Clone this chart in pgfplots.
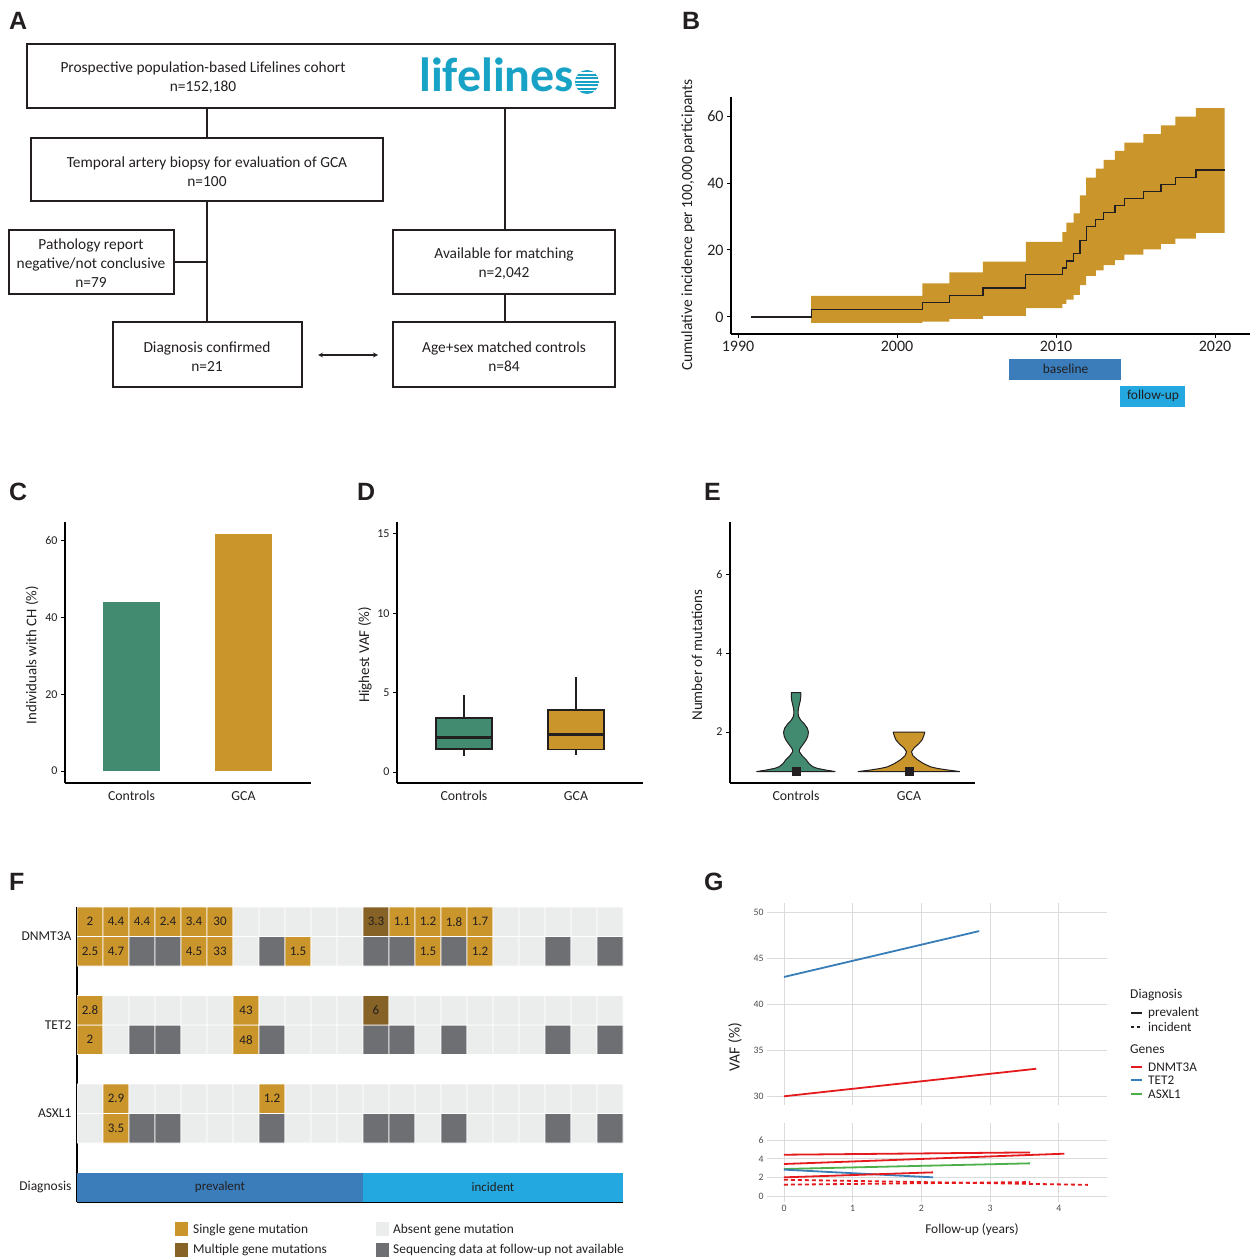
\documentclass[border=0pt]{standalone}
\usepackage{pgfplots}
\pgfplotsset{compat=1.18}
\usepgfplotslibrary{fillbetween,statistics}
\usepackage{fontspec}
\setmainfont{Carlito}
\newfontfamily\letterfont{Liberation Sans}
\definecolor{gold}{RGB}{202,149,42}
\definecolor{cgreen}{RGB}{66,139,113}
\definecolor{cbrown}{RGB}{134,98,38}
\definecolor{cdark}{RGB}{110,111,115}
\definecolor{clight}{RGB}{235,236,236}
\definecolor{cblue}{RGB}{58,125,186}
\definecolor{csky}{RGB}{35,169,224}
\definecolor{lteal}{RGB}{24,163,198}
\definecolor{gred}{RGB}{228,26,28}
\definecolor{gblue}{RGB}{55,126,184}
\definecolor{ggreen}{RGB}{77,175,74}
\definecolor{txt}{RGB}{35,31,32}
\newcommand\fs[1]{\fontsize{#1}{#1}\selectfont}
\pgfplotsset{
  panel/.style={scale only axis, axis lines=left, axis line style={-, line width=1.6pt, black},
    tick align=outside, major tick length=4pt, tick style={line width=1pt, black},
    /pgf/number format/assume math mode=true, ticklabel style={text=txt}},
  gpanel/.style={scale only axis, axis line style={draw=none}, tick style={draw=none},
    grid=major, grid style={line width=0.9pt, color=black!14},
    /pgf/number format/assume math mode=true, ticklabel style={font=\fs{9.8}, text=black!70},
    xmin=-0.247, xmax=4.70, xtick={0,1,2,3,4}},
  catx/.style={xtick={0,1}, xticklabels={Controls,GCA}, xtick style={draw=none},
    xticklabel style={font=\fs{13.8}, text height=10pt, text depth=2pt}},
}
\begin{document}
\begin{tikzpicture}
\begin{scope}[x=1pt,y=-1pt]
% panel letters
\foreach \l/\px/\py in {A/9/30,B/682/30,C/9/500,D/357/500,E/704/500,F/9/890,G/704/890}
  \node[anchor=base west, inner sep=0pt, font=\letterfont\bfseries\fs{25}, text=txt] at (\px,\py) {\l};
% flowchart
\begin{scope}[line width=1.6pt, draw=txt]
\draw (27,44) rectangle (615,108);
\draw (207,108) -- (207,138);
\draw (505,108) -- (505,230);
\draw (31,138) rectangle (383,201);
\draw (207,201) -- (207,322);
\draw (9,230) rectangle (174,294);
\draw (174,262) -- (207,262);
\draw (393,230) rectangle (615,294);
\draw (505,294) -- (505,322);
\draw (113,322) rectangle (302,387);
\draw (393,322) rectangle (615,387);
\draw[<->, >=stealth, line width=1.2pt] (318,355) -- (378,355);
\end{scope}
\tikzset{fc/.style={align=center, font=\fontsize{15.4}{19}\selectfont, text=txt}}
\node[fc] at (203,77.5) {Prospective population-based Lifelines cohort\\n=152,180};
\node[fc] at (207,171.5) {Temporal artery biopsy for evaluation of GCA\\n=100};
\node[fc] at (91,263.5) {Pathology report\\negative/not conclusive\\n=79};
\node[fc] at (504,264) {Available for matching\\n=2,042};
\node[fc] at (207,357) {Diagnosis confirmed\\n=21};
\node[fc] at (504,357) {Age+sex matched controls\\n=84};
\node[anchor=base west, inner sep=0pt, text=lteal, font=\bfseries\fs{48}] at (419,92) {lifelines};
\begin{scope}
\clip (587,82) circle (12pt);
\fill[lteal] (587,82) circle (12pt);
\foreach \d in {-9,-5.5,-2,1.5,5,8.5}
  \draw[white, line width=1.3pt] (574,82+\d) -- (600,82+\d);
\end{scope}
% y labels
\node[rotate=90, font=\fs{15.5}, text=txt] at (688,225) {Cumulative incidence per 100,000 participants};
\node[rotate=90, font=\fs{14.8}, text=txt] at (32,655) {Individuals with CH (\%)};
\node[rotate=90, font=\fs{15}, text=txt] at (365,655) {Highest VAF (\%)};
\node[rotate=90, font=\fs{15}, text=txt] at (697,655) {Number of mutations};
\node[rotate=90, font=\fs{15.5}, text=txt] at (735,1047) {VAF (\%)};
\node[font=\fs{13.4}, text=txt] at (972,1230) {Follow-up (years)};
% F legend
\tikzset{lg/.style={anchor=west, font=\fs{13.4}, text=txt, inner sep=0pt}}
\fill[gold] (175,1222) rectangle (188,1236); \node[lg] at (193,1230) {Single gene mutation};
\fill[cbrown] (175,1243) rectangle (188,1257); \node[lg] at (193,1250) {Multiple gene mutations};
\fill[clight] (376,1222) rectangle (389,1236); \node[lg] at (393,1230) {Absent gene mutation};
\fill[cdark] (376,1243) rectangle (389,1257); \node[lg] at (393,1250) {Sequencing data at follow-up not available};
% G legend
\tikzset{gl/.style={anchor=west, font=\fs{13.2}, text=txt, inner sep=0pt}}
\node[gl, font=\fs{13.5}] at (1130,995) {Diagnosis};
\draw[line width=1.5pt, txt] (1131,1013) -- (1142,1013); \node[gl] at (1148,1013) {prevalent};
\draw[line width=1.5pt, txt, dash pattern=on 3pt off 2.5pt] (1131,1027) -- (1142,1027); \node[gl] at (1148,1027) {incident};
\node[gl, font=\fs{13.5}] at (1130,1049) {Genes};
\draw[line width=1.5pt, gred] (1131,1067) -- (1142,1067); \node[gl] at (1148,1067) {DNMT3A};
\draw[line width=1.5pt, gblue] (1131,1080) -- (1142,1080); \node[gl] at (1148,1080) {TET2};
\draw[line width=1.5pt, ggreen] (1131,1094) -- (1142,1094); \node[gl] at (1148,1094) {ASXL1};
\end{scope}

% ---------------- B
\begin{axis}[panel, at={(731pt,-334pt)}, anchor=south west, width=519pt, height=237pt,
  xmin=1989.56, xmax=2022.2, ymin=-5.1, ymax=65.7, clip=false,
  xtick={1990,2000,2010,2020}, xticklabels={1990,2000,2010,2020},
  ytick={0,20,40,60}, ticklabel style={font=\fs{16}}]
\addplot[const plot, draw=none, name path=U] coordinates {(1994.6,6.3) (2001.6,10.0) (2003.3,13.3) (2005.4,16.5) (2008.1,22.4) (2010.4,25.3) (2010.65,28.2) (2011.1,30.9) (2011.5,36.3) (2011.9,41.6) (2012.5,44.3) (2013.0,46.9) (2013.7,49.6) (2014.3,52.1) (2015.5,54.6) (2016.6,57.2) (2017.5,59.8) (2018.8,62.4) (2020.6,62.4)};
\addplot[const plot, draw=none, name path=L] coordinates {(1994.6,-1.8) (2001.6,-1.4) (2003.3,-0.6) (2005.4,0.3) (2008.1,2.6) (2010.4,3.9) (2010.65,5.2) (2011.1,6.6) (2011.5,9.5) (2011.9,12.3) (2012.5,13.9) (2013.0,15.5) (2013.7,17.0) (2014.3,18.6) (2015.5,20.2) (2016.6,21.8) (2017.5,23.4) (2018.8,25.1) (2020.6,25.1)};
\addplot[gold] fill between[of=U and L];
\addplot[const plot, line width=1.3pt, color=txt] coordinates {(1990.8,0) (1994.6,2.3) (2001.6,4.4) (2003.3,6.5) (2005.4,8.6) (2008.1,12.6) (2010.4,14.6) (2010.65,16.7) (2011.1,18.9) (2011.5,22.9) (2011.9,27.1) (2012.5,29.2) (2013.0,31.2) (2013.7,33.3) (2014.3,35.4) (2015.5,37.5) (2016.6,39.6) (2017.5,41.7) (2018.8,43.9) (2020.6,43.9)};
\fill[cblue] (axis cs:2007.05,-12.6) rectangle (axis cs:2014.1,-18.7);
\node[font=\fs{13.5}, text=txt] at (axis cs:2010.6,-15.65) {baseline};
\fill[csky] (axis cs:2014.05,-20.6) rectangle (axis cs:2018.14,-26.8);
\node[font=\fs{13.5}, text=txt] at (axis cs:2016.1,-23.7) {follow-up};
\end{axis}

% ---------------- C
\begin{axis}[panel, catx, at={(65pt,-783pt)}, anchor=south west, width=246pt, height=261pt,
  xmin=-0.594, xmax=1.603, ymin=-3.13, ymax=64.9,
  ytick={0,20,40,60}, yticklabel style={font=\fs{12}}]
\addplot[ybar, bar width=57pt, bar shift=0pt, fill=cgreen, draw=none] coordinates {(0,44.0)};
\addplot[ybar, bar width=57pt, bar shift=0pt, fill=gold, draw=none] coordinates {(1,61.8)};
\end{axis}

% ---------------- D
\begin{axis}[panel, catx, at={(397pt,-783pt)}, anchor=south west, width=246pt, height=261pt,
  xmin=-0.598, xmax=1.598, ymin=-0.69, ymax=15.75,
  ytick={0,5,10,15}, yticklabel style={font=\fs{12}},
  boxplot/draw direction=y, boxplot/every median/.style={line width=3pt}]
\addplot[boxplot prepared={draw position=0, lower whisker=0.99, lower quartile=1.46, median=2.19, upper quartile=3.40, upper whisker=4.87, box extend=0.5, whisker extend=0}, fill=cgreen, draw=txt, line width=1.4pt, mark=none] coordinates {};
\addplot[boxplot prepared={draw position=1, lower whisker=1.10, lower quartile=1.43, median=2.38, upper quartile=3.90, upper whisker=5.99, box extend=0.5, whisker extend=0}, fill=gold, draw=txt, line width=1.4pt, mark=none] coordinates {};
\end{axis}

% ---------------- E
\begin{axis}[panel, catx, at={(730pt,-783pt)}, anchor=south west, width=245pt, height=261pt,
  xmin=-0.584, xmax=1.584, ymin=0.71, ymax=7.32,
  ytick={2,4,6}, yticklabel style={font=\fs{12}}]
\addplot[fill=cgreen, draw=txt, line width=1pt, line join=round] coordinates {(0.348,1) (0.26,1.04) (0.19,1.08) (0.15,1.12) (0.115,1.2) (0.09,1.3) (0.055,1.4) (0.03,1.5) (0.03,1.55) (0.04,1.6) (0.065,1.7) (0.09,1.8) (0.105,1.9) (0.11,2.0) (0.10,2.1) (0.075,2.2) (0.042,2.3) (0.022,2.4) (0.018,2.5) (0.022,2.6) (0.03,2.7) (0.038,2.8) (0.042,2.9) (0.042,3.0) (-0.042,3.0) (-0.042,2.9) (-0.038,2.8) (-0.03,2.7) (-0.022,2.6) (-0.018,2.5) (-0.022,2.4) (-0.042,2.3) (-0.075,2.2) (-0.10,2.1) (-0.11,2.0) (-0.105,1.9) (-0.09,1.8) (-0.065,1.7) (-0.04,1.6) (-0.03,1.55) (-0.03,1.5) (-0.055,1.4) (-0.09,1.3) (-0.115,1.2) (-0.15,1.12) (-0.19,1.08) (-0.26,1.04) (-0.348,1) (0.348,1)};
\addplot[fill=gold, draw=txt, line width=1pt, line join=round] coordinates {(1.45,1) (1.34,1.04) (1.25,1.08) (1.19,1.12) (1.13,1.2) (1.075,1.3) (1.035,1.4) (1.022,1.5) (1.045,1.6) (1.085,1.7) (1.115,1.8) (1.13,1.9) (1.14,2.0) (0.86,2.0) (0.87,1.9) (0.885,1.8) (0.915,1.7) (0.955,1.6) (0.978,1.5) (0.965,1.4) (0.925,1.3) (0.87,1.2) (0.81,1.12) (0.75,1.08) (0.66,1.04) (0.55,1) (1.45,1)};
\addplot[only marks, mark=square*, mark size=4pt, color=txt] coordinates {(0,1) (1,1)};
\end{axis}

% ---------------- F
\begin{axis}[panel, at={(77pt,-1202pt)}, anchor=south west, width=546pt, height=295pt,
  xmin=-0.5, xmax=20.5, ymin=-0.5, ymax=9.5, axis line style={-, line width=2pt, black},
  xtick=\empty, ytick={0,2.5,5.5,8.5}, yticklabels={Diagnosis,ASXL1,TET2,DNMT3A},
  ytick style={draw=none}, yticklabel style={font=\fs{13.5}, xshift=2pt},
  colormap={fmap}{rgb255=(235,236,236) rgb255=(202,149,42) rgb255=(134,98,38) rgb255=(110,111,115)},
  point meta min=0, point meta max=3]
\addplot[matrix plot*, shader=faceted, faceted color=white, line width=0.7pt, mesh/cols=21, point meta=explicit] coordinates {
(0,8)[1] (1,8)[1] (2,8)[3] (3,8)[3] (4,8)[1] (5,8)[1] (6,8)[0] (7,8)[3] (8,8)[1] (9,8)[0] (10,8)[0] (11,8)[3] (12,8)[3] (13,8)[1] (14,8)[3] (15,8)[1] (16,8)[0] (17,8)[0] (18,8)[3] (19,8)[0] (20,8)[3]
(0,9)[1] (1,9)[1] (2,9)[1] (3,9)[1] (4,9)[1] (5,9)[1] (6,9)[0] (7,9)[0] (8,9)[0] (9,9)[0] (10,9)[0] (11,9)[2] (12,9)[1] (13,9)[1] (14,9)[1] (15,9)[1] (16,9)[0] (17,9)[0] (18,9)[0] (19,9)[0] (20,9)[0]
};
\addplot[matrix plot*, shader=faceted, faceted color=white, line width=0.7pt, mesh/cols=21, point meta=explicit] coordinates {
(0,5)[1] (1,5)[0] (2,5)[3] (3,5)[3] (4,5)[0] (5,5)[0] (6,5)[1] (7,5)[3] (8,5)[0] (9,5)[0] (10,5)[0] (11,5)[3] (12,5)[3] (13,5)[0] (14,5)[3] (15,5)[0] (16,5)[0] (17,5)[0] (18,5)[3] (19,5)[0] (20,5)[3]
(0,6)[1] (1,6)[0] (2,6)[0] (3,6)[0] (4,6)[0] (5,6)[0] (6,6)[1] (7,6)[0] (8,6)[0] (9,6)[0] (10,6)[0] (11,6)[2] (12,6)[0] (13,6)[0] (14,6)[0] (15,6)[0] (16,6)[0] (17,6)[0] (18,6)[0] (19,6)[0] (20,6)[0]
};
\addplot[matrix plot*, shader=faceted, faceted color=white, line width=0.7pt, mesh/cols=21, point meta=explicit] coordinates {
(0,2)[0] (1,2)[1] (2,2)[3] (3,2)[3] (4,2)[0] (5,2)[0] (6,2)[0] (7,2)[3] (8,2)[0] (9,2)[0] (10,2)[0] (11,2)[3] (12,2)[3] (13,2)[0] (14,2)[3] (15,2)[0] (16,2)[0] (17,2)[0] (18,2)[3] (19,2)[0] (20,2)[3]
(0,3)[0] (1,3)[1] (2,3)[0] (3,3)[0] (4,3)[0] (5,3)[0] (6,3)[0] (7,3)[1] (8,3)[0] (9,3)[0] (10,3)[0] (11,3)[0] (12,3)[0] (13,3)[0] (14,3)[0] (15,3)[0] (16,3)[0] (17,3)[0] (18,3)[0] (19,3)[0] (20,3)[0]
};
\fill[cblue] (axis cs:-0.5,-0.5) rectangle (axis cs:10.5,0.5);
\fill[csky] (axis cs:10.5,-0.5) rectangle (axis cs:20.5,0.5);
\addplot[draw=none, mark=none, point meta=explicit symbolic, nodes near coords,
  every node near coord/.append style={font=\fs{13}, text=txt, anchor=center, inner sep=0pt}] coordinates {
(0,9)[2] (1,9)[4.4] (2,9)[4.4] (3,9)[2.4] (4,9)[3.4] (5,9)[30] (11,9)[3.3] (12,9)[1.1] (13,9)[1.2] (14,9)[1.8] (15,9)[1.7]
(0,8)[2.5] (1,8)[4.7] (4,8)[4.5] (5,8)[33] (8,8)[1.5] (13,8)[1.5] (15,8)[1.2]
(0,6)[2.8] (6,6)[43] (11,6)[6]
(0,5)[2] (6,5)[48]
(1,3)[2.9] (7,3)[1.2]
(1,2)[3.5]
(5,0)[prevalent] (15.5,0)[incident]
};
\end{axis}

% ---------------- G top
\begin{axis}[gpanel, at={(767pt,-1105pt)}, anchor=south west, width=340pt, height=202pt,
  ymin=29.05, ymax=51.06, xticklabels={}, ytick={30,35,40,45,50}]
\addplot[gblue, line width=1.8pt] coordinates {(0,43) (2.84,48)};
\addplot[gred, line width=1.8pt] coordinates {(0,30) (3.67,33)};
\end{axis}
% ---------------- G bottom
\begin{axis}[gpanel, at={(767pt,-1202pt)}, anchor=south west, width=340pt, height=79pt,
  ymin=-0.65, ymax=7.87, ytick={0,2,4,6}]
\addplot[gred, line width=1.8pt] coordinates {(0,4.45) (3.58,4.70)};
\addplot[gred, line width=1.8pt] coordinates {(0,3.45) (4.08,4.56)};
\addplot[ggreen, line width=1.8pt] coordinates {(0,2.91) (3.58,3.52)};
\addplot[gblue, line width=1.8pt] coordinates {(0,2.84) (2.17,2.01)};
\addplot[gred, line width=1.8pt] coordinates {(0,2.01) (2.17,2.55)};
\addplot[gred, line width=1.8pt, dash pattern=on 4pt off 3pt] coordinates {(0,1.75) (4.42,1.2)};
\addplot[gred, line width=1.8pt, dash pattern=on 4pt off 3pt] coordinates {(0,1.22) (3.58,1.5)};
\end{axis}
\pgfresetboundingbox
\path (0,0) rectangle (1250pt,-1257pt);
\end{tikzpicture}
\end{document}
